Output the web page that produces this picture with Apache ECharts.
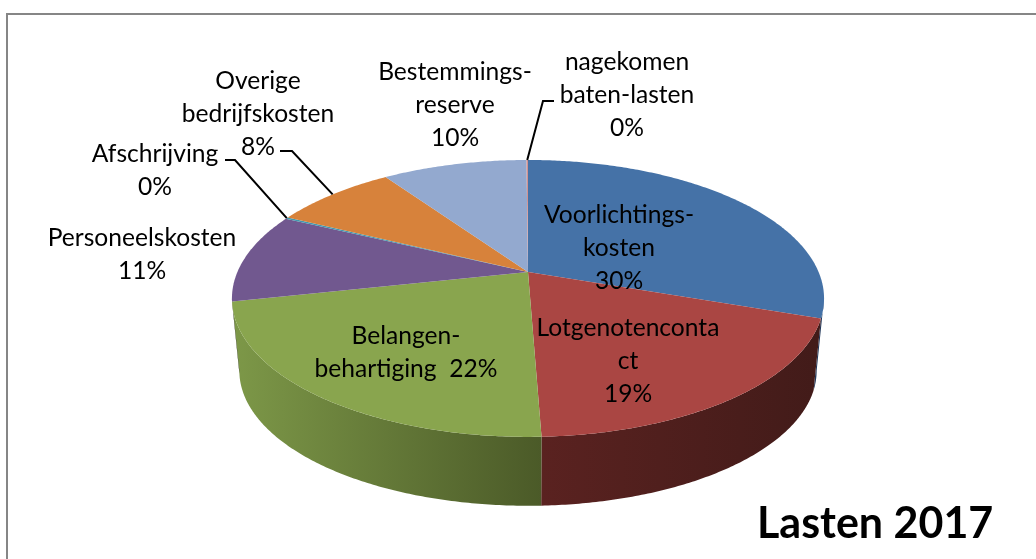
<!DOCTYPE html>
<html>
<head>
<meta charset="utf-8">
<style>
  html, body { margin: 0; padding: 0; background: #fff; }
  #chart { width: 1036px; height: 559px; }
</style>
<script src="https://cdn.jsdelivr.net/npm/echarts@6/dist/echarts.min.js"></script>
</head>
<body>
<div id="chart"></div>
<script>
// waarden (procenten)
var categories = ['Voorlichtingskosten', 'Lotgenotencontact', 'Belangenbehartiging', 'Personeelskosten', 'Afschrijving', 'Overige bedrijfskosten', 'Bestemmingsreserve', 'nagekomen baten-lasten'];
var values = [30.3, 19.1, 22.2, 10.5, 0.2, 8.1, 9.5, 0.1];
var labelNames = ['Voorlichtings-\nkosten', 'Lotgenotenconta\nct', 'Belangen-\nbehartiging ', 'Personeelskosten', 'Afschrijving', 'Overige\nbedrijfskosten', 'Bestemmings-\nreserve', 'nagekomen\nbaten-lasten'];
var chartTitle = 'Lasten 2017';

var colors = ['#4572A7', '#AA4643', '#89A54E', '#71588F', '#4198AF', '#D7823B', '#93A9CF', '#D19392'];
// zijkant: kleur links, kleur rechts
var wallColors = [
  ['#22385a', '#22385a'], ['#5a2220', '#421b19'], ['#7d9848', '#4b5a28'], ['#3a2d4a', '#3a2d4a'],
  ['#20505c', '#20505c'], ['#6e421e', '#6e421e'], ['#4a5568', '#4a5568'], ['#684a49', '#684a49']
];

// layout van de labels: midden x, y van eerste regel, en evt. knik van de hulplijn
var labelLayout = [
  { x: 619, y: 215 },
  { x: 628, y: 328 },
  { x: 406, y: 336, sameLine: true },
  { x: 142, y: 238 },
  { x: 155, y: 154, leader: [[235, 160], [225, 160]] },
  { x: 258, y: 81, leader: [[292, 151], [280, 151]] },
  { x: 455, y: 72 },
  { x: 627, y: 62, leader: [[543, 101], [554, 101]] }
];

// perspectief van de schijf
var cx = 528, apexY = 272, radiusX = 290.6, radiusY = 133.4, persp = 0.191;
var bottomScale = 0.975, bottomApexY = 345;

var total = values.reduce(function (a, b) { return a + b; }, 0);
var starts = [];
values.reduce(function (sum, v, i) { starts[i] = sum; return sum + v; }, 0);

function angleOf(v) { return v / total * Math.PI * 2; }

function project(a, scale, yy) {
  var u = Math.sin(a), v = Math.cos(a), d = 1 + persp * v;
  return [cx + scale * radiusX * u / d, yy - scale * radiusY * v / d];
}

function arc(a0, a1, scale, yy) {
  var n = Math.max(2, Math.ceil((a1 - a0) / 0.01)), pts = [];
  for (var i = 0; i <= n; i++) pts.push(project(a0 + (a1 - a0) * i / n, scale, yy));
  return pts;
}

function renderTop(params) {
  var i = params.dataIndex;
  var a0 = angleOf(starts[i]), a1 = angleOf(starts[i] + values[i]);
  return {
    type: 'polygon',
    silent: true,
    shape: { points: [[cx, apexY]].concat(arc(a0, a1, 1, apexY)) },
    style: { fill: colors[i] }
  };
}

// alleen de voorkant van de schijf is zichtbaar
var frontFrom = Math.acos(-persp), frontTo = Math.PI * 2 - frontFrom;

function renderWall(params) {
  var i = params.dataIndex;
  var a0 = Math.max(angleOf(starts[i]), frontFrom), a1 = Math.min(angleOf(starts[i] + values[i]), frontTo);
  if (a1 <= a0) return null;
  var pts = arc(a0, a1, 1, apexY).concat(arc(a0, a1, bottomScale, bottomApexY).reverse());
  return {
    type: 'polygon',
    silent: true,
    shape: { points: pts },
    style: {
      fill: new echarts.graphic.LinearGradient(0, 0, 1, 0, [
        { offset: 0, color: wallColors[i][0] },
        { offset: 1, color: wallColors[i][1] }
      ])
    }
  };
}

var lineH = 33;
var labelFont = '24.6px Lato';

function renderLabel(params) {
  var i = params.dataIndex, l = labelLayout[i];
  var pct = Math.round(values[i]) + '%';
  var text = labelNames[i] + (l.sameLine ? ' ' : '\n') + pct;
  var children = [{
    type: 'text',
    silent: true,
    style: {
      text: text, x: l.x, y: l.y - lineH / 2, align: 'center', verticalAlign: 'top',
      font: labelFont, lineHeight: lineH, fill: '#000'
    }
  }];
  if (l.leader) {
    var mid = angleOf(starts[i] + values[i] / 2);
    children.push({
      type: 'polyline',
      silent: true,
      shape: { points: [project(mid, 1, apexY)].concat(l.leader) },
      style: { stroke: '#000', lineWidth: 2, fill: null }
    });
  }
  return { type: 'group', children: children };
}

function series(render, z) {
  return {
    type: 'custom',
    coordinateSystem: 'none',
    renderItem: render,
    data: values.map(function (v, i) { return { name: categories[i], value: v }; }),
    z: z,
    silent: true,
    animation: false
  };
}

var chart = echarts.init(document.getElementById('chart'), null, { renderer: 'canvas' });
chart.setOption({
  animation: false,
  backgroundColor: '#fff',
  title: {
    text: chartTitle,
    left: 752,
    top: 498,
    textStyle: { fontFamily: 'Lato', fontWeight: 'bold', fontSize: 43, color: '#000' }
  },
  graphic: [{
    type: 'rect',
    shape: { x: 7, y: 14, width: 1060, height: 600 },
    style: { fill: null, stroke: '#868686', lineWidth: 2 },
    silent: true,
    z: 0
  }],
  series: [series(renderWall, 2), series(renderTop, 3), series(renderLabel, 4)]
});
</script>
</body>
</html>
